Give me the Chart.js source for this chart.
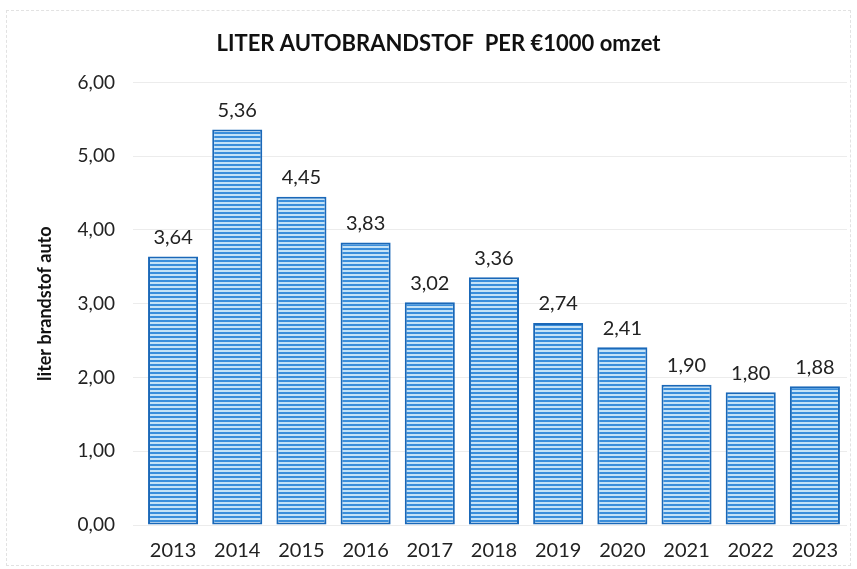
<!DOCTYPE html>
<html>
<head>
<meta charset="utf-8">
<script src="https://cdn.jsdelivr.net/npm/chart.js@4"></script>
<style>
  html, body { margin: 0; padding: 0; background: #fff; }
  #wrap { position: absolute; left: 0; top: 0; width: 857px; height: 569px; }
  #frame { position: absolute; left: 6px; top: 10px; width: 845px; height: 556px; border: 1px dashed #e2e2e2; box-sizing: border-box; }
</style>
</head>
<body>
<div id="wrap">
  <div id="frame"></div>
  <canvas id="c" width="857" height="569"></canvas>
</div>
<script>
const years = ['2013', '2014', '2015', '2016', '2017', '2018', '2019', '2020', '2021', '2022', '2023'];
const liters = [3.64, 5.36, 4.45, 3.83, 3.02, 3.36, 2.74, 2.41, 1.90, 1.80, 1.88];
const yTicks = [0, 1, 2, 3, 4, 5, 6];

const fmt = v => v.toFixed(2).replace('.', ',');

// horizontal stripe fill, like the scanned bars
function stripes() {
    const p = document.createElement('canvas');
    p.width = 8; p.height = 4;
    const g = p.getContext('2d');
    g.fillStyle = '#c4e2f7';
    g.fillRect(0, 0, 8, 4);
    g.fillStyle = '#3a8edb';
    g.fillRect(0, 0, 8, 2);
    return g.createPattern(p, 'repeat');
}

const valueLabels = {
    id: 'valueLabels',
    afterDatasetsDraw(chart) {
        const ctx = chart.ctx;
        const meta = chart.getDatasetMeta(0);
        ctx.save();
        ctx.font = '20px Lato';
        ctx.fillStyle = '#222';
        ctx.textAlign = 'center';
        ctx.textBaseline = 'bottom';
        meta.data.forEach((bar, i) => {
            ctx.fillText(fmt(liters[i]), bar.x, bar.y - 9);
        });
        ctx.restore();
    }
};

const ctx = document.getElementById('c').getContext('2d');
const chart = new Chart(ctx, {
    type: 'bar',
    data: {
        labels: years,
        datasets: [{
            data: liters,
            backgroundColor: stripes(),
            borderColor: '#1a68b8',
            borderWidth: 2,
            borderSkipped: false,
            categoryPercentage: 0.78,
            barPercentage: 1
        }]
    },
    options: {
        responsive: false,
        animation: false,
        layout: { padding: { left: 30, right: 10, top: 31, bottom: 0 } },
        plugins: {
            legend: { display: false },
            tooltip: { enabled: false },
            title: {
                display: true,
                text: 'LITER AUTOBRANDSTOF  PER €1000 omzet',
                color: '#111',
                font: { family: 'Lato', size: 22, weight: 'bold' },
                padding: { top: 0, bottom: 25 }
            }
        },
        scales: {
            x: {
                grid: { display: false },
                border: { display: false },
                ticks: { color: '#222', font: { family: 'Lato', size: 20 }, padding: 6 }
            },
            y: {
                min: 0,
                max: 6,
                afterBuildTicks: axis => { axis.ticks = yTicks.map(v => ({ value: v })); },
                grid: { color: '#ececec', lineWidth: 1 },
                border: { display: false },
                ticks: {
                    color: '#222',
                    font: { family: 'Lato', size: 19 },
                    padding: 18,
                    callback: v => fmt(v)
                },
                title: {
                    display: true,
                    text: 'liter brandstof auto',
                    color: '#111',
                    font: { family: 'Lato', size: 18, weight: 'bold' },
                    padding: { bottom: 4 }
                }
            }
        }
    },
    plugins: [valueLabels]
});
</script>
</body>
</html>
